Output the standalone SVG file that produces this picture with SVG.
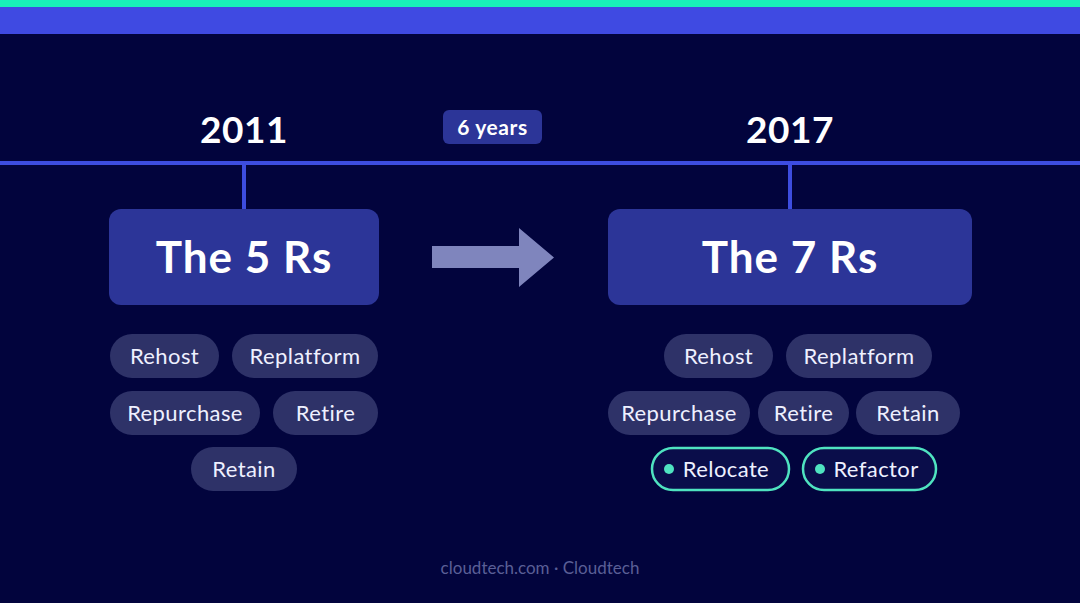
<svg xmlns="http://www.w3.org/2000/svg" width="1080" height="603" viewBox="0 0 1080 603">
<defs>
<style>
text{font-family:"Lato","Open Sans","Liberation Sans",sans-serif;text-anchor:middle}
.year{font-size:37px;font-weight:700;fill:#ffffff;letter-spacing:0.5px}
.title{font-size:44px;font-weight:700;fill:#ffffff;letter-spacing:1px}
.box{fill:#2c3598}
.pill{fill:#2e3268}
.pt{font-size:22px;fill:#eef0ff;letter-spacing:0.4px}
.new{fill:#0a0d4a;stroke:#4fe3c0;stroke-width:2.5}
.line{stroke:#3d4de0;stroke-width:4}
</style>
</defs>
<rect width="1080" height="603" fill="#02043d"/>
<rect y="0" width="1080" height="7" fill="#19f0b8"/>
<rect y="7" width="1080" height="27" fill="#3f4ae2"/>
<g id="connectors">
<line class="line" x1="0" y1="163" x2="1080" y2="163"/>
<line class="line" x1="244" y1="163" x2="244" y2="209"/>
<line class="line" x1="790" y1="163" x2="790" y2="209"/>
<polygon points="432,246 519,246 519,228 554,257.5 519,287 519,268 432,268" fill="#7f85bd"/>
</g>
<g id="year2011"><text class="year" x="244" y="143">2011</text></g>
<g id="year2017"><text class="year" x="790" y="143">2017</text></g>
<g id="badge">
<rect x="443" y="110" width="99" height="34" rx="6" fill="#2c3598"/>
<text x="492.5" y="135" style="font-size:21px;font-weight:700;fill:#fff;letter-spacing:0.6px">6 years</text>
</g>
<g id="box5">
<rect class="box" x="109" y="209" width="270" height="96" rx="12"/>
<text class="title" x="244" y="273">The 5 Rs</text>
</g>
<g id="box7">
<rect class="box" x="608" y="209" width="364" height="96" rx="12"/>
<text class="title" x="790" y="273">The 7 Rs</text>
</g>
<g id="l-rehost"><rect class="pill" x="110" y="334" width="109" height="44" rx="22"/><text class="pt" x="164.5" y="364">Rehost</text></g>
<g id="l-replatform"><rect class="pill" x="232" y="334" width="146" height="44" rx="22"/><text class="pt" x="305" y="364">Replatform</text></g>
<g id="l-repurchase"><rect class="pill" x="110" y="391" width="150" height="44" rx="22"/><text class="pt" x="185" y="421">Repurchase</text></g>
<g id="l-retire"><rect class="pill" x="273" y="391" width="105" height="44" rx="22"/><text class="pt" x="325.5" y="421">Retire</text></g>
<g id="l-retain"><rect class="pill" x="191" y="447" width="106" height="44" rx="22"/><text class="pt" x="244" y="477">Retain</text></g>
<g id="r-rehost"><rect class="pill" x="664" y="334" width="109" height="44" rx="22"/><text class="pt" x="718.5" y="364">Rehost</text></g>
<g id="r-replatform"><rect class="pill" x="786" y="334" width="146" height="44" rx="22"/><text class="pt" x="859" y="364">Replatform</text></g>
<g id="r-repurchase"><rect class="pill" x="608" y="391" width="142" height="44" rx="22"/><text class="pt" x="679" y="421">Repurchase</text></g>
<g id="r-retire"><rect class="pill" x="758" y="391" width="91" height="44" rx="22"/><text class="pt" x="803.5" y="421">Retire</text></g>
<g id="r-retain"><rect class="pill" x="856" y="391" width="104" height="44" rx="22"/><text class="pt" x="908" y="421">Retain</text></g>
<g id="r-relocate"><rect class="new" x="652" y="448" width="137" height="42" rx="21"/><circle cx="669" cy="469" r="5" fill="#4fe3c0"/><text class="pt" x="726" y="477">Relocate</text></g>
<g id="r-refactor"><rect class="new" x="803" y="448" width="133" height="42" rx="21"/><circle cx="820" cy="469" r="5" fill="#4fe3c0"/><text class="pt" x="876" y="477">Refactor</text></g>
<g id="footer"><text x="540" y="574" style="font-size:17px;fill:#5a5f96">cloudtech.com · Cloudtech</text></g>
</svg>
